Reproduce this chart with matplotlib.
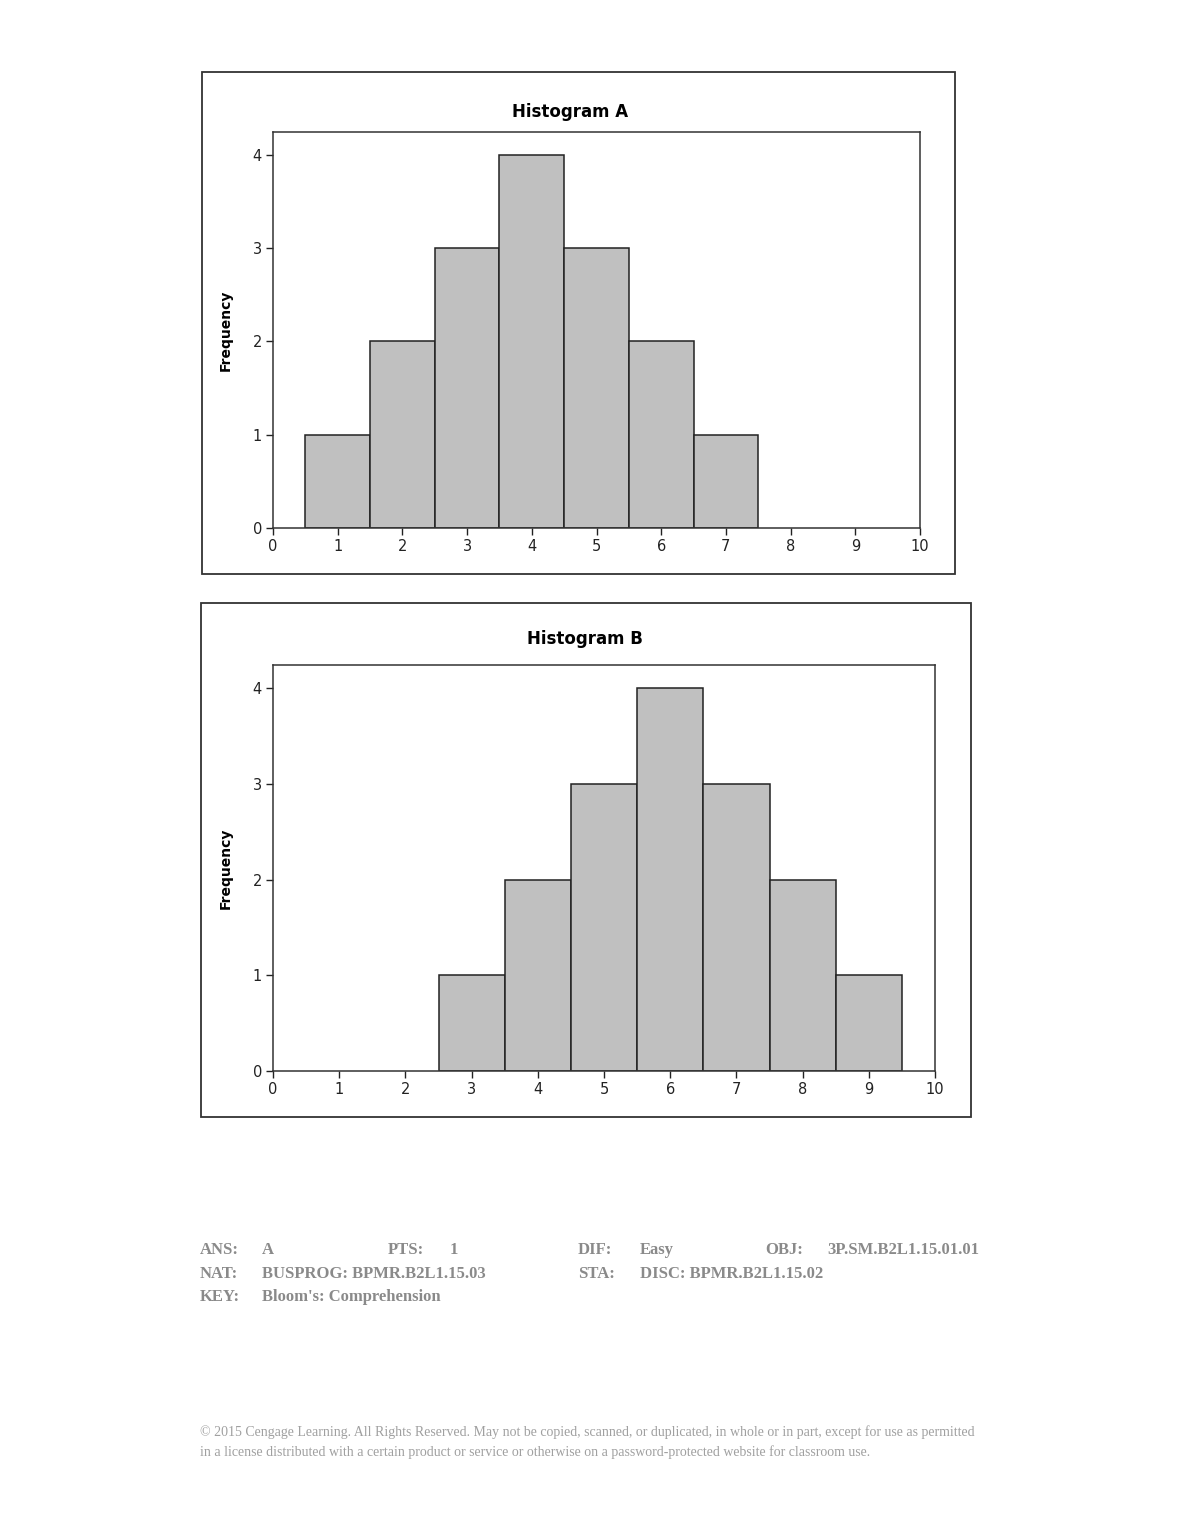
import numpy as np
import matplotlib
matplotlib.use("Agg")
import matplotlib.pyplot as plt
from matplotlib.patches import Rectangle

plt.rcParams.update({
    "font.family": "sans-serif",
    "font.sans-serif": ["DejaVu Sans"],
})

# ---- data ----
counts = [1, 2, 3, 4, 3, 2, 1]
centers_a = [1, 2, 3, 4, 5, 6, 7]
centers_b = [3, 4, 5, 6, 7, 8, 9]
xticks = list(range(0, 11))
yticks = [0, 1, 2, 3, 4]
titles = ["Histogram A", "Histogram B"]

W, H = 1180, 1527
fig = plt.figure(figsize=(W / 100, H / 100), dpi=100)


def px_box(x0, y0, x1, y1):
    # pixel box (top-left origin) -> figure fraction rect
    return [x0 / W, 1 - y1 / H, (x1 - x0) / W, (y1 - y0) / H]


def panel(outer, inner, centers, title, title_xy):
    # outer frame around each chart
    r = px_box(*outer)
    fig.patches.append(Rectangle((r[0], r[1]), r[2], r[3], transform=fig.transFigure,
                                 fill=False, edgecolor="#333333", linewidth=1.3))
    ax = fig.add_axes(px_box(*inner))
    ax.bar(centers, counts, width=1.0, color="#c0c0c0", edgecolor="#222222", linewidth=1.1)
    ax.set_xlim(0, 10)
    ax.set_ylim(0, 4.245)
    ax.set_xticks(xticks)
    ax.set_yticks(yticks)
    ax.tick_params(direction="out", length=5, width=1, labelsize=10.5, colors="#222222", pad=3)
    for s in ax.spines.values():
        s.set_linewidth(1.1)
        s.set_color("#333333")
    ax.set_ylabel("Frequency", fontsize=10, fontweight="bold", labelpad=14)
    fig.text(title_xy[0] / W, 1 - title_xy[1] / H, title, ha="center", va="center",
             fontsize=12, fontweight="bold")
    return ax


panel((202, 72, 955, 574), (273, 132, 920, 528), centers_a, titles[0], (570, 112))
panel((201, 603, 971, 1117), (273, 665, 935, 1071), centers_b, titles[1], (585, 639))

# blurred answer key text below the charts (approximated in grey)
grey = "#8a8a8a"
key_rows = [
    (1250, [(200, "ANS:"), (262, "A"), (388, "PTS:"), (450, "1"), (578, "DIF:"), (640, "Easy"),
            (765, "OBJ:"), (827, "3P.SM.B2L1.15.01.01")]),
    (1274, [(200, "NAT:"), (262, "BUSPROG: BPMR.B2L1.15.03"), (578, "STA:"), (640, "DISC: BPMR.B2L1.15.02")]),
    (1297, [(200, "KEY:"), (262, "Bloom's: Comprehension")]),
]
for y, items in key_rows:
    for x, s in items:
        fig.text(x / W, 1 - y / H, s, ha="left", va="center", fontsize=12,
                 family="Liberation Serif", color=grey, fontweight="bold")

footer = [
    (1432, "© 2015 Cengage Learning. All Rights Reserved. May not be copied, scanned, or duplicated, in whole or in part, except for use as permitted"),
    (1452, "in a license distributed with a certain product or service or otherwise on a password-protected website for classroom use."),
]
for y, s in footer:
    fig.text(200 / W, 1 - y / H, s, ha="left", va="center", fontsize=10,
             family="Liberation Serif", color="#a0a0a0")

fig.savefig("out.png", dpi=100)
